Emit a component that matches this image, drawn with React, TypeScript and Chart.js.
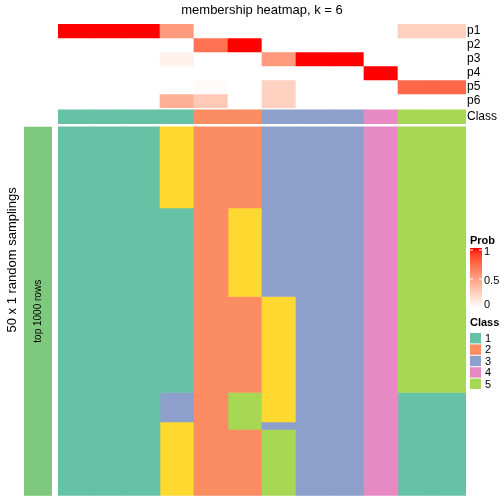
import React, { useEffect, useRef } from "react";
import { Chart, registerables } from "chart.js";
Chart.register(...registerables);

// ---------------- data ----------------
const sampleColumns = ["s1", "s2", "s3", "s4", "s5", "s6", "s7", "s8", "s9", "s10", "s11", "s12"];
const probRowLabels = ["p1", "p2", "p3", "p4", "p5", "p6"];
const p1 = [1, 1, 1, 0.52, 0, 0, 0, 0, 0, 0, 0.25, 0.25];
const p2 = [0, 0, 0, 0, 0.7, 1, 0, 0, 0, 0, 0, 0];
const p3 = [0, 0, 0, 0.07, 0, 0, 0.52, 1, 1, 0, 0, 0];
const p4 = [0, 0, 0, 0, 0, 0, 0, 0, 0, 1, 0, 0];
const p5 = [0, 0, 0, 0, 0.02, 0, 0.24, 0, 0, 0, 0.75, 0.75];
const p6 = [0, 0, 0, 0.41, 0.28, 0, 0.24, 0, 0, 0, 0, 0];
const sampleClass = [1, 1, 1, 1, 2, 2, 3, 3, 3, 4, 5, 5];
const classLegendLabels = ["1", "2", "3", "4", "5"];
const probLegendTicks = [1, 0.5, 0];
const nSamplings = 50;
// per column: runs of [class, number of samplings], top to bottom
const samplingRuns: number[][][] = [
  [[1, 50]],
  [[1, 50]],
  [[1, 50]],
  [[6, 11], [1, 25], [3, 4], [6, 10]],
  [[2, 50]],
  [[2, 11], [6, 12], [2, 13], [5, 5], [2, 9]],
  [[3, 23], [6, 17], [3, 1], [5, 9]],
  [[3, 50]],
  [[3, 50]],
  [[4, 50]],
  [[5, 36], [1, 14]],
  [[5, 36], [1, 14]],
];

// ---------------- styles ----------------
const classColors: Record<number, string> = {
  1: "#66C2A5",
  2: "#FC8D62",
  3: "#8DA0CB",
  4: "#E78AC3",
  5: "#A6D854",
  6: "#FFD92F",
};
const FONT = "'Liberation Sans', Arial, Helvetica, sans-serif";

// layout in y-axis units (1 unit = 1 px)
const ANNOT_H = 14;
const CLASS_TOP = 86;
const CLASS_H = 14;
const MAIN_TOP = 103;
const MAIN_H = 370;

// LAB interpolation white -> red
function toLin(c: number) {
  c /= 255;
  return c <= 0.04045 ? c / 12.92 : Math.pow((c + 0.055) / 1.055, 2.4);
}
function fromLin(c: number) {
  const v = c <= 0.0031308 ? 12.92 * c : 1.055 * Math.pow(c, 1 / 2.4) - 0.055;
  return Math.max(0, Math.min(255, Math.round(v * 255)));
}
function rgbToLab(r: number, g: number, b: number) {
  const R = toLin(r), G = toLin(g), B = toLin(b);
  let x = (R * 0.4124 + G * 0.3576 + B * 0.1805) / 0.95047;
  let y = R * 0.2126 + G * 0.7152 + B * 0.0722;
  let z = (R * 0.0193 + G * 0.1192 + B * 0.9505) / 1.08883;
  const f = (t: number) => (t > 0.008856 ? Math.cbrt(t) : 7.787 * t + 16 / 116);
  x = f(x); y = f(y); z = f(z);
  return [116 * y - 16, 500 * (x - y), 200 * (y - z)];
}
function labToRgb(L: number, a: number, bb: number) {
  const fy = (L + 16) / 116;
  const fx = fy + a / 500;
  const fz = fy - bb / 200;
  const inv = (t: number) => (t * t * t > 0.008856 ? t * t * t : (t - 16 / 116) / 7.787);
  const x = inv(fx) * 0.95047, y = inv(fy), z = inv(fz) * 1.08883;
  const R = x * 3.2406 + y * -1.5372 + z * -0.4986;
  const G = x * -0.9689 + y * 1.8758 + z * 0.0415;
  const B = x * 0.0557 + y * -0.204 + z * 1.057;
  return `rgb(${fromLin(R)},${fromLin(G)},${fromLin(B)})`;
}
const LAB_W = rgbToLab(255, 255, 255);
const LAB_R = rgbToLab(255, 0, 0);
function probColor(p: number) {
  return labToRgb(
    LAB_W[0] + (LAB_R[0] - LAB_W[0]) * p,
    LAB_W[1] + (LAB_R[1] - LAB_W[1]) * p,
    LAB_W[2] + (LAB_R[2] - LAB_W[2]) * p
  );
}

const probRows = [p1, p2, p3, p4, p5, p6];
const rowTickLabels = [...probRowLabels, "Class"];
const rowTickCenters = [
  ...probRowLabels.map((_, r) => r * ANNOT_H + ANNOT_H / 2),
  CLASS_TOP + CLASS_H / 2,
];

function buildDatasets() {
  const ds: any[] = [];
  probRows.forEach((row, r) => {
    ds.push({
      label: probRowLabels[r],
      data: sampleColumns.map(() => [r * ANNOT_H, (r + 1) * ANNOT_H]),
      backgroundColor: row.map(probColor),
    });
  });
  ds.push({
    label: "Class",
    data: sampleColumns.map(() => [CLASS_TOP, CLASS_TOP + CLASS_H]),
    backgroundColor: sampleClass.map((c) => classColors[c]),
  });
  const rowH = MAIN_H / nSamplings;
  const maxRuns = Math.max(...samplingRuns.map((r) => r.length));
  for (let k = 0; k < maxRuns; k++) {
    const data: any[] = [];
    const colors: string[] = [];
    samplingRuns.forEach((runs) => {
      if (k < runs.length) {
        let start = 0;
        for (let j = 0; j < k; j++) start += runs[j][1];
        const end = start + runs[k][1];
        data.push([MAIN_TOP + start * rowH, MAIN_TOP + end * rowH]);
        colors.push(classColors[runs[k][0]]);
      } else {
        data.push(null);
        colors.push("rgba(0,0,0,0)");
      }
    });
    ds.push({ label: "run" + k, data, backgroundColor: colors });
  }
  return ds.map((d) => ({
    ...d,
    grouped: false,
    barPercentage: 1,
    categoryPercentage: 1,
    borderWidth: 0,
    borderSkipped: false,
  }));
}

const decorPlugin = {
  id: "decor",
  afterDraw(chart: any) {
    const ctx = chart.ctx as CanvasRenderingContext2D;
    const area = chart.chartArea;
    ctx.save();
    ctx.fillStyle = "#000";
    // title
    ctx.font = `13px ${FONT}`;
    ctx.textAlign = "center";
    ctx.textBaseline = "middle";
    ctx.fillText("membership heatmap, k = 6", (area.left + area.right) / 2, 10);

    // left annotation bar
    const yScale = chart.scales.y;
    const mainTop = yScale.getPixelForValue(MAIN_TOP);
    const mainBot = yScale.getPixelForValue(MAIN_TOP + MAIN_H);
    ctx.fillStyle = "#7FC97F";
    ctx.fillRect(24, mainTop, 28, mainBot - mainTop);
    ctx.fillStyle = "#000";
    ctx.save();
    ctx.translate(38, (mainTop + mainBot) / 2);
    ctx.rotate(-Math.PI / 2);
    ctx.font = `10px ${FONT}`;
    ctx.fillText("top 1000 rows", 0, 0);
    ctx.restore();
    ctx.save();
    ctx.translate(12, (area.top + area.bottom) / 2);
    ctx.rotate(-Math.PI / 2);
    ctx.font = `13px ${FONT}`;
    ctx.fillText("50 x 1 random samplings", 0, 0);
    ctx.restore();

    // Prob legend
    const lx = 470;
    ctx.textAlign = "left";
    ctx.font = `bold 11px ${FONT}`;
    ctx.fillText("Prob", lx, 241);
    const gTop = 248, gBot = 308, gW = 12;
    const grad = ctx.createLinearGradient(0, gTop, 0, gBot);
    for (let i = 0; i <= 10; i++) grad.addColorStop(i / 10, probColor(1 - i / 10));
    ctx.fillStyle = grad;
    ctx.fillRect(lx, gTop, gW, gBot - gTop);
    ctx.font = `11px ${FONT}`;
    const tickY = (v: number) => 250 + (1 - v) * 58;
    probLegendTicks.forEach((v) => {
      const y = tickY(v);
      ctx.strokeStyle = "#fff";
      ctx.lineWidth = 1;
      ctx.beginPath();
      ctx.moveTo(lx, y); ctx.lineTo(lx + 3, y);
      ctx.moveTo(lx + gW - 3, y); ctx.lineTo(lx + gW, y);
      ctx.stroke();
      ctx.fillStyle = "#000";
      ctx.fillText(String(v), lx + 14, Math.min(y + 2, 305));
    });

    // Class legend
    ctx.font = `bold 11px ${FONT}`;
    ctx.fillStyle = "#000";
    ctx.fillText("Class", lx, 323);
    ctx.font = `11px ${FONT}`;
    classLegendLabels.forEach((lab, i) => {
      const y = 333 + i * 11.4;
      ctx.fillStyle = classColors[i + 1];
      ctx.fillRect(lx, y, 11, 10.4);
      ctx.fillStyle = "#000";
      ctx.fillText(lab, lx + 15, y + 6);
    });
    ctx.restore();
  },
};

export default function App() {
  const ref = useRef<HTMLCanvasElement>(null);
  useEffect(() => {
    if (!ref.current) return;
    const chart = new Chart(ref.current, {
      type: "bar",
      data: { labels: sampleColumns, datasets: buildDatasets() },
      options: {
        animation: false,
        responsive: false,
        devicePixelRatio: 1,
        layout: { padding: { left: 58, top: 24, bottom: 7, right: 0 } },
        plugins: { legend: { display: false }, tooltip: { enabled: false } },
        scales: {
          x: { display: false },
          y: {
            position: "right",
            min: 0,
            max: MAIN_TOP + MAIN_H,
            reverse: true,
            grid: { display: false, drawTicks: false },
            border: { display: false },
            afterBuildTicks: (s: any) => {
              s.ticks = rowTickCenters.map((v) => ({ value: v }));
            },
            afterFit: (s: any) => {
              s.width = 38;
            },
            ticks: {
              autoSkip: false,
              padding: 1,
              color: "#000",
              font: { size: 12, family: FONT },
              callback: (_v: any, i: number) => rowTickLabels[i],
            },
          },
        },
      } as any,
      plugins: [decorPlugin],
    });
    return () => chart.destroy();
  }, []);
  return (
    <div style={{ position: "absolute", left: 0, top: 0, width: 504, height: 504, background: "#fff" }}>
      <canvas ref={ref} width={504} height={504} />
    </div>
  );
}
